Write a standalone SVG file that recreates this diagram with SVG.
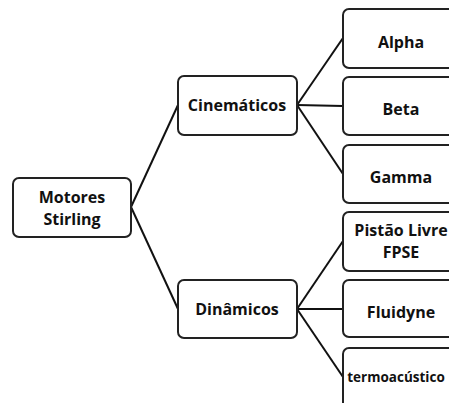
<svg xmlns="http://www.w3.org/2000/svg" width="449" height="403" viewBox="0 0 449 403">
<style>
.box{fill:#fff;stroke:#222;stroke-width:2}
.t{font-family:"Open Sans","Liberation Sans",sans-serif;font-weight:bold;font-size:16px;fill:#111;text-anchor:middle}
.c{stroke:#111;stroke-width:2;fill:none}
</style>
<rect width="449" height="403" fill="#fff"/>
<g id="connectors">
<line class="c" x1="131" y1="207" x2="178" y2="105"/>
<line class="c" x1="131" y1="207" x2="178" y2="309"/>
<line class="c" x1="297" y1="105" x2="343" y2="38"/>
<line class="c" x1="297" y1="105" x2="343" y2="106"/>
<line class="c" x1="297" y1="105" x2="343" y2="174"/>
<line class="c" x1="297" y1="309" x2="343" y2="241"/>
<line class="c" x1="297" y1="309" x2="343" y2="309"/>
<line class="c" x1="297" y1="309" x2="343" y2="377"/>
</g>
<g id="motores"><rect class="box" x="13" y="178" width="118" height="59" rx="6"/><text class="t" x="72" y="203">Motores</text><text class="t" x="72" y="225">Stirling</text></g>
<g id="cinematicos"><rect class="box" x="178" y="76" width="119" height="59" rx="6"/><text class="t" x="237" y="111">Cinemáticos</text></g>
<g id="dinamicos"><rect class="box" x="178" y="280" width="119" height="58" rx="6"/><text class="t" x="237" y="315">Dinâmicos</text></g>
<g id="alpha"><rect class="box" x="343" y="9" width="116" height="59" rx="6"/><text class="t" x="401" y="48">Alpha</text></g>
<g id="beta"><rect class="box" x="343" y="77" width="116" height="58" rx="6"/><text class="t" x="401" y="115">Beta</text></g>
<g id="gamma"><rect class="box" x="343" y="145" width="116" height="58" rx="6"/><text class="t" x="401" y="183">Gamma</text></g>
<g id="pistao"><rect class="box" x="343" y="212" width="116" height="59" rx="6"/><text class="t" x="401" y="236">Pistão Livre</text><text class="t" x="401" y="258">FPSE</text></g>
<g id="fluidyne"><rect class="box" x="343" y="280" width="116" height="57" rx="6"/><text class="t" x="401" y="318">Fluidyne</text></g>
<g id="termo"><rect class="box" x="343" y="348" width="116" height="70" rx="6"/><text class="t" x="396" y="382" style="font-size:13.5px">termoacústico</text></g>
</svg>
